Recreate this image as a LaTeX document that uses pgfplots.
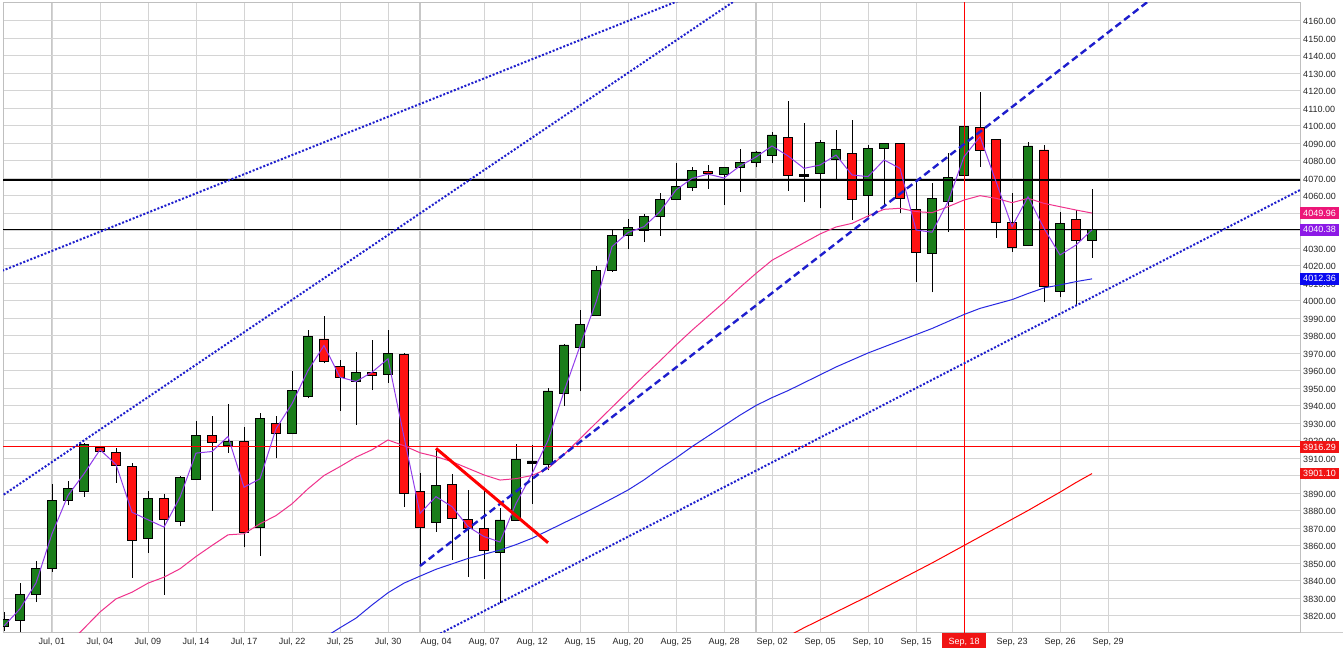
\documentclass[border=0pt]{standalone}
\usepackage{pgfplots}
\pgfplotsset{compat=1.18}
\usepackage{pgfplotstable}
\usepackage{fontspec}
\setmainfont{Liberation Sans}

\definecolor{cgreen}{RGB}{26,125,26}
\definecolor{cred}{RGB}{255,18,18}
\definecolor{mapink}{RGB}{240,50,140}
\definecolor{mapurple}{RGB}{145,60,235}
\definecolor{mablue}{RGB}{40,40,225}
\definecolor{tlblue}{RGB}{30,30,205}
\definecolor{boxpink}{RGB}{236,22,120}
\definecolor{boxpurple}{RGB}{140,25,230}
\definecolor{boxblue}{RGB}{10,10,240}
\definecolor{boxred}{RGB}{240,20,20}

\pgfplotsset{
  candle1/.style={draw=black, line width=0.8pt, fill=cgreen},
  candle0/.style={draw=black, line width=0.8pt, fill=cred},
  candle2/.style={draw=black, line width=0.8pt, fill=black},
}

\pgfplotstableread{
i o h l c k
0 3814 3822 3811 3818 1
1 3817 3838.5 3810.5 3832 1
2 3832 3851.4 3827.6 3846.7 1
3 3847 3895 3845 3886 1
4 3886 3897 3883 3892.4 1
5 3891 3918.5 3888 3917.5 1
6 3916.2 3917.1 3913.3 3913.9 0
7 3913 3916 3896 3906 0
8 3905 3907 3841.5 3863 0
9 3864 3891 3856 3887 1
10 3887 3889.5 3832 3875 0
11 3874 3899.5 3871 3899 1
12 3898 3931 3898 3923 1
13 3923 3934 3880 3919 0
14 3917 3941 3913 3919.5 1
15 3919.5 3927.6 3859 3867.6 0
16 3870.5 3935.8 3854 3932.4 1
17 3929.5 3934 3910 3924 0
18 3924 3959.6 3924 3948.6 1
19 3945 3983.4 3944 3979.4 1
20 3978 3991.4 3964 3965 0
21 3962.5 3966 3937 3956 0
22 3954 3970.5 3929 3958.7 1
23 3958.7 3977.7 3949 3957 0
24 3957.5 3983 3953 3969.5 1
25 3969 3970 3882 3890 0
26 3891 3901.6 3848.3 3870.4 0
27 3873 3915.5 3868 3894.4 1
28 3895 3901 3851.7 3875.5 0
29 3875 3892 3842 3870 0
30 3870 3891 3841 3857 0
31 3856 3881.6 3827 3874.6 1
32 3874.6 3918 3874.6 3909 1
33 3908.3 3917.4 3884 3907.2 2
34 3906.4 3950 3903 3948.3 1
35 3947 3975 3940 3974.6 1
36 3973.2 3994.6 3948 3986.4 1
37 3991.3 4019.7 3991 4017.2 1
38 4017 4040.7 4016.5 4037 1
39 4037 4046.6 4029.3 4041.8 1
40 4040.3 4049.3 4033.3 4047.9 1
41 4048.3 4061.3 4037 4057.8 1
42 4058 4078.8 4057.4 4065 1
43 4064.7 4076.1 4062.6 4074.2 1
44 4073.8 4077.3 4063.9 4072.7 0
45 4072.1 4076.5 4054.6 4076.1 1
46 4076.1 4086.6 4062.2 4079.1 1
47 4079.1 4085.5 4076 4084.9 1
48 4082.8 4096.5 4078.4 4094.6 1
49 4093.2 4114.2 4062.8 4071.3 0
50 4072.1 4101.6 4056.5 4071.0 2
51 4072.5 4091.7 4052.7 4090.4 1
52 4080.7 4097.4 4069 4086.4 1
53 4084.1 4103.1 4046 4057.8 0
54 4059.9 4088.9 4047.9 4087 1
55 4086.8 4090 4053.6 4089.8 1
56 4089.8 4090 4049.8 4058.4 0
57 4052.1 4068.5 4010.8 4027.3 0
58 4027 4067 4004.7 4058.4 1
59 4056.5 4084.5 4039.3 4070.4 1
60 4071.3 4100 4071 4099.7 1
61 4098.8 4119.3 4076.5 4085.6 0
62 4092.1 4092.1 4035.9 4044.5 0
63 4044.7 4061.2 4027.9 4030.4 0
64 4031.7 4090.8 4031 4088.3 1
65 4086 4088.9 3999 4007.9 0
66 4005 4050.8 4001.8 4044.1 1
67 4046.4 4051.7 3997.4 4034.2 0
68 4034.2 4063.7 4024.5 4040.38 1
}\candles

\begin{document}
\begin{tikzpicture}
\useasboundingbox (0,0) rectangle (1343pt,662pt);
\fill[white] (0,0) rectangle (1343pt,662pt);
\draw[black!20, line width=1pt] (1300pt,30pt) -- (1343pt,30pt);
\begin{axis}[
  at={(3pt,30pt)}, anchor=south west,
  width=1297pt, height=629pt, scale only axis,
  xmin=-0.0625, xmax=81, ymin=3810.57, ymax=4170,
  axis line style={draw=black!25, line width=1pt},
  tick style={draw=none},
  major tick length=0pt, minor tick length=0pt,
  ytick={3820,3830,...,4160},
  yticklabel pos=right,
  ymajorgrids, xmajorgrids, xminorgrids,
  major grid style={draw=black!17, line width=0.9pt},
  minor grid style={draw=black!22, line width=2pt},
  minor xtick={3,26,47},
  xtick={3,6,9,12,15,18,21,24,30,33,36,39,42,45,48,51,54,57,60,63,66,69},
  xticklabels={{Jul, 01},{Jul, 04},{Jul, 09},{Jul, 14},{Jul, 17},{Jul, 22},{Jul, 25},{Jul, 30},{Aug, 07},{Aug, 12},{Aug, 15},{Aug, 20},{Aug, 25},{Aug, 28},{Sep, 02},{Sep, 05},{Sep, 10},{Sep, 15},{\fboxsep=0pt\colorbox{boxred}{\rule[-4pt]{0pt}{15pt}\hspace{6.5pt}\textcolor{white}{Sep, 18}\hspace{6.5pt}}},{Sep, 23},{Sep, 26},{Sep, 29}},
  extra x ticks={27},
  extra x tick labels={Aug{,} 04},
  extra x tick style={grid=none},
  xticklabel style={font=\fontsize{9}{10}\selectfont, text=black!85, anchor=base, inner sep=0pt, yshift=-12pt},
  yticklabel style={font=\fontsize{9}{10}\selectfont, text=black!85, anchor=west, inner sep=0pt, xshift=3pt, yshift=-1pt,
    /pgf/number format/.cd, fixed, fixed zerofill, precision=2, 1000 sep={}, assume math mode=true},
]
% candles
\pgfplotsinvokeforeach{0,...,68}{%
  \pgfplotstablegetelem{#1}{o}\of\candles\edef\vo{\pgfplotsretval}%
  \pgfplotstablegetelem{#1}{h}\of\candles\edef\vh{\pgfplotsretval}%
  \pgfplotstablegetelem{#1}{l}\of\candles\edef\vl{\pgfplotsretval}%
  \pgfplotstablegetelem{#1}{c}\of\candles\edef\vc{\pgfplotsretval}%
  \pgfplotstablegetelem{#1}{k}\of\candles\edef\vk{\pgfplotsretval}%
  \pgfmathsetmacro\xa{#1-0.29}%
  \pgfmathsetmacro\xb{#1+0.29}%
  \edef\tmp{\noexpand\addplot[black, line width=1pt] coordinates {(#1,\vl) (#1,\vh)};
    \noexpand\addplot[candle\vk] coordinates {(\xa,\vo) (\xb,\vo) (\xb,\vc) (\xa,\vc) (\xa,\vo)};}%
  \tmp
}
% horizontal / vertical lines
\addplot[black, line width=2pt] coordinates {(-1,4068.6) (82,4068.6)};
\addplot[black, line width=1pt] coordinates {(-1,4040.38) (82,4040.38)};
\addplot[red, line width=1pt] coordinates {(-1,3916.29) (82,3916.29)};
\addplot[red, line width=1pt] coordinates {(60,3800) (60,4180)};
% moving averages
\addplot[red, line width=1pt] coordinates {(49.3,3809.6) (50,3813) (52,3822) (54,3831) (56,3840.5) (58,3850) (60,3860) (62,3870) (64,3880) (66,3890.5) (67,3896) (68,3901.1)};
\addplot[mablue, line width=1pt] coordinates {(20.3,3809) (21,3813) (22,3818.5) (23,3826) (24,3833) (25,3838.5) (26,3842.5) (27,3846.4) (28,3849.5) (29,3852.6) (30,3855) (31,3857.4) (32,3860.5) (33,3864.1) (34,3868.5) (35,3873) (36,3877.4) (37,3882) (38,3886.8) (39,3891.7) (40,3897.5) (41,3904) (42,3910) (43,3916.5) (44,3922.5) (45,3928.5) (46,3934.5) (47,3940) (48,3944.5) (49,3948.5) (50,3953) (51,3957.5) (52,3962) (53,3966) (54,3970) (55,3973.5) (56,3977) (57,3980.5) (58,3984) (59,3988) (60,3992) (61,3995.5) (62,3998) (63,4000.5) (64,4004) (65,4007.2) (66,4008.9) (67,4010.8) (68,4012.36)};
\addplot[mapink, line width=1pt] coordinates {(4.5,3808) (6,3822) (7,3829.5) (8,3833.3) (9,3838.5) (10,3841.9) (11,3846.7) (12,3853.7) (13,3860) (14,3866.1) (15,3866.7) (16,3872.4) (17,3877.1) (18,3883.8) (19,3892.4) (20,3900) (21,3905.1) (22,3910.5) (23,3914.7) (24,3920.3) (25,3917) (26,3913) (27,3910.8) (28,3907.9) (29,3904.1) (30,3900.3) (31,3897.4) (32,3898.2) (33,3900) (34,3904) (35,3912) (36,3921) (37,3930) (38,3939) (39,3948) (40,3957) (41,3965.5) (42,3974.5) (43,3983) (44,3991) (45,3999) (46,4007.5) (47,4015.5) (48,4023) (49,4028) (50,4033) (51,4038) (52,4042) (53,4044.1) (54,4048.3) (55,4052.1) (56,4052.7) (57,4050.8) (58,4050.2) (59,4053.6) (60,4057.4) (61,4059.9) (62,4058.4) (63,4055.9) (64,4058.4) (65,4055.5) (66,4053.6) (67,4051.7) (68,4049.96)};
\addplot[mapurple, line width=1pt] coordinates {(0,3814) (1,3823.8) (2,3838.5) (3,3866.7) (4,3888.6) (5,3901) (6,3914.7) (7,3906.3) (8,3879) (9,3874.7) (10,3870.5) (11,3887.6) (12,3912.8) (13,3913.7) (14,3922.3) (15,3893.3) (16,3898.1) (17,3926.7) (18,3941) (19,3960) (20,3974.3) (21,3956.2) (22,3953.7) (23,3959) (24,3966.7) (25,3922) (26,3878.4) (27,3887.9) (28,3882.2) (29,3870.8) (30,3865.1) (31,3862) (32,3884) (33,3901) (34,3920) (35,3948) (36,3974) (37,3999) (38,4030.8) (39,4038.8) (40,4042.2) (41,4050.8) (42,4063.2) (43,4069.8) (44,4072.2) (45,4070) (46,4076.9) (47,4082) (48,4088.3) (49,4082.6) (50,4075.5) (51,4077.4) (52,4083.1) (53,4071.7) (54,4070.8) (55,4080.3) (56,4075.5) (57,4040.3) (58,4039) (59,4056.5) (60,4082.2) (61,4093.6) (62,4067.9) (63,4042.2) (64,4059.3) (65,4041.2) (66,4026) (67,4031.7) (68,4040.38)};
% trend lines
\addplot[tlblue, line width=2pt, dash pattern=on 2pt off 1.8pt] coordinates {(-1,4013.75) (43,4174.35)};
\addplot[tlblue, line width=2pt, dash pattern=on 2pt off 1.8pt] coordinates {(-1,3883.0) (46,4173.3)};
\addplot[tlblue, line width=2pt, dash pattern=on 2pt off 1.8pt] coordinates {(26,3803.7) (81.5,4065.5)};
\addplot[tlblue, line width=2.4pt, dash pattern=on 7pt off 4pt] coordinates {(26,3848.3) (72,4174.4)};
\addplot[red, line width=3pt] coordinates {(27,3915.5) (34,3861.6)};
% anchors for value boxes
\coordinate (b1) at (axis cs:81,4049.96);
\coordinate (b2) at (axis cs:81,4040.38);
\coordinate (b3) at (axis cs:81,4012.36);
\coordinate (b4) at (axis cs:81,3916.29);
\coordinate (b5) at (axis cs:81,3901.10);
\end{axis}
\tikzset{vbox/.style={anchor=west, text=white, inner xsep=3pt, inner ysep=0pt, minimum height=11.5pt, font=\fontsize{9}{10}\selectfont}}
\node[vbox, fill=boxpink] at (b1) {4049.96};
\node[vbox, fill=boxpurple] at (b2) {4040.38};
\node[vbox, fill=boxblue] at (b3) {4012.36};
\node[vbox, fill=boxred] at (b4) {3916.29};
\node[vbox, fill=boxred] at (b5) {3901.10};
\end{tikzpicture}
\end{document}
